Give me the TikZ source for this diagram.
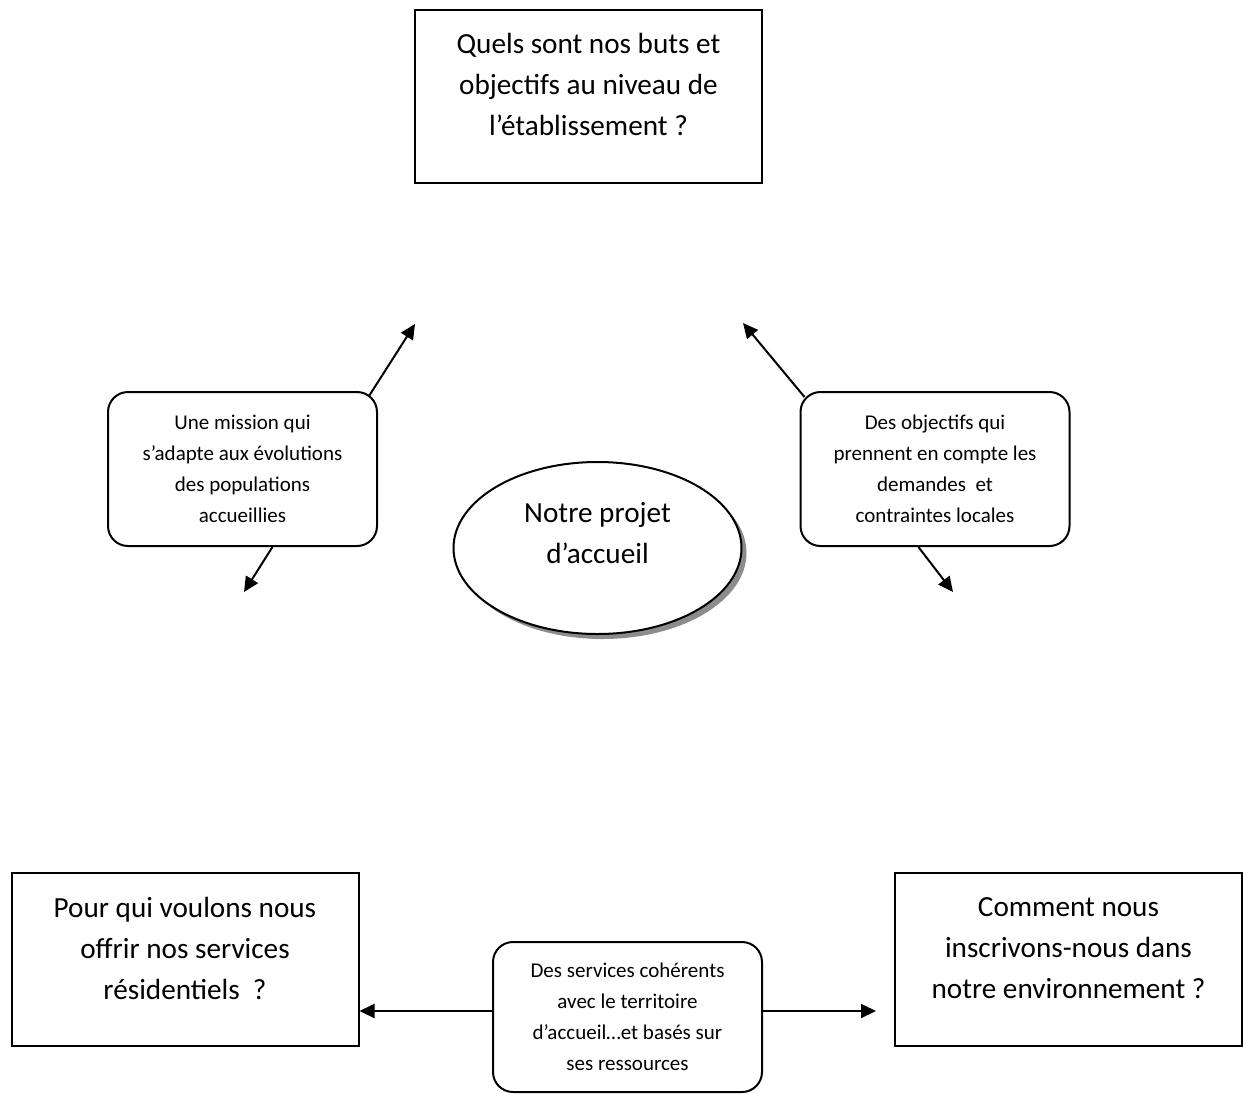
\documentclass[tikz,border=0pt]{standalone}
\usepackage{fontspec}
\setmainfont{Carlito}
\usetikzlibrary{arrows.meta,shapes.geometric,shadows}

\begin{document}
\begin{tikzpicture}[x=0.5pt,y=-0.5pt,>={Triangle[length=7.5pt,width=7pt]},line width=1pt,
                    question/.style={draw,minimum width=173.5pt,minimum height=86.5pt,inner sep=0pt},
                    big text/.style={align=center,font=\fontsize{14.6}{20.5}\selectfont},
                    note/.style={draw,rounded corners=10pt,align=center,inner sep=0pt,
                                 minimum width=134.5pt,minimum height=77pt,font=\fontsize{10.5}{15.5}\selectfont}]

  \useasboundingbox (0,0) rectangle (1243,1093);

  \node[question] (buts) at (588.5,96.5) {};
  \node[big text] (buts text) at ([yshift=6.25pt]buts) {Quels sont nos buts et\\objectifs au niveau de\\l’établissement ?};

  \node[question] (pourqui) at (185,959) {};
  \node[big text] (pourqui text) at ([yshift=5.5pt]pourqui) {Pour qui voulons nous\\offrir nos services\\résidentiels\ \ ?};

  \node[question] (comment) at (1068.5,959) {};
  \node[big text] (comment text) at ([yshift=5.5pt]comment) {Comment nous\\inscrivons-nous dans\\notre environnement ?};

  \node[ellipse,draw,fill=white,inner sep=0pt,minimum width=144pt,minimum height=86pt,
        drop shadow={shadow xshift=2.5pt,shadow yshift=-2.5pt,opacity=1,fill=black!45}] (projet) at (597.5,548) {};
  \node[big text] (projet text) at ([yshift=7.5pt]projet) {Notre projet\\d’accueil};

  \node[note] (mission) at (242.5,469) {Une mission qui\\s’adapte aux évolutions\\des populations\\accueillies};
  \node[note] (objectifs) at (935,469) {Des objectifs qui\\prennent en compte les\\demandes\ \ et\\contraintes locales};
  \node[note,minimum height=75pt] (services) at (627.5,1017) {Des services cohérents\\avec le territoire\\d’accueil…et basés sur\\ses ressources};

  \coordinate (mission up) at (415,324);
  \coordinate (mission down) at (244,592);
  \coordinate (objectifs up) at (743,323);
  \coordinate (objectifs down) at (953,592);
  \coordinate (services right) at (876,1011);

  \path[->]
    ([shift={(-9,5)}]mission.north east) edge (mission up)
    (mission.-69) edge (mission down)
    ([shift={(5,6)}]objectifs.north west) edge (objectifs up)
    (objectifs.-102) edge (objectifs down)
    ([yshift=3pt]services.west) edge ([yshift=3pt]services.west -| pourqui.east)
    ([yshift=3pt]services.east) edge (services right);
\end{tikzpicture}
\end{document}
